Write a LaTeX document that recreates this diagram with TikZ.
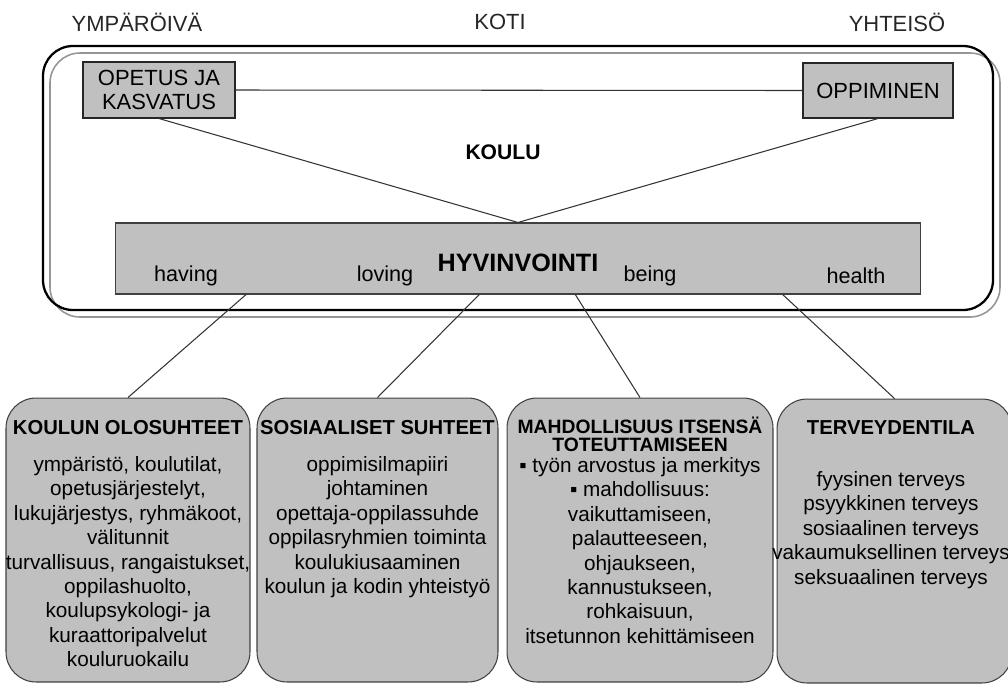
\documentclass[tikz,border=0pt]{standalone}
\usepackage{fontspec}
\setmainfont{Liberation Sans}
\usetikzlibrary{positioning,calc}
\definecolor{boxgray}{RGB}{192,192,192}
\definecolor{linegray}{RGB}{64,64,64}
\definecolor{shadowgray}{RGB}{150,150,150}

\begin{document}
\begin{tikzpicture}[
    x=0.02cm, y=-0.02cm,
    toplabel/.style={font=\fontsize{12.5}{15}\selectfont, text=black!85},
    smallbox/.style={rectangle, draw=black!85, fill=boxgray, line width=0.6pt, align=center, inner sep=0pt, font=\fontsize{12.5}{14}\selectfont},
    bigbox/.style={rectangle, draw=black!75, fill=boxgray, line width=0.6pt, minimum width=16.12cm, minimum height=1.42cm},
    word/.style={font=\fontsize{12.3}{15}\selectfont, inner sep=0pt},
    area/.style={rectangle, rounded corners=0.6cm, draw=linegray, fill=boxgray, line width=0.6pt, minimum height=5.68cm},
    head/.style={font=\bfseries\fontsize{11.5}{10.8}\selectfont, align=center, inner sep=0pt},
    body/.style={font=\fontsize{11.8}{13.9}\selectfont, align=center, inner sep=0pt, anchor=north},
    link/.style={draw=black!80, line width=0.6pt}
]
    \useasboundingbox (0,0) rectangle (1008,684);
    \clip (0,0) rectangle (1008,684);

    % Frame
    \draw[shadowgray, line width=0.9pt, rounded corners=0.6cm] (50,53) rectangle (1000,317);
    \draw[black, line width=1.3pt, rounded corners=0.6cm] (43,46) rectangle (993,310);

    % Top labels
    \node[toplabel] (ymp) at (137,22) {YMPÄRÖIVÄ};
    \node[toplabel] (koti) at (500,22) {KOTI};
    \node[toplabel] (yht) at (897,22) {YHTEISÖ};

    % School
    \node[smallbox, minimum width=3.04cm, minimum height=1.12cm] (opetus) at (159,90) {OPETUS JA\\KASVATUS};
    \node[smallbox, minimum width=3.0cm, minimum height=1.1cm] (oppim) at (878,90.5) {OPPIMINEN};
    \node[font=\bfseries\fontsize{12}{14}\selectfont] (koulu) at (503,152) {KOULU};

    % Well-being
    \node[bigbox] (hyv) at (518,258.5) {};
    \node[font=\bfseries\fontsize{14.3}{16}\selectfont, inner sep=0pt] (hyvtxt) at (518,263) {HYVINVOINTI};
    \node[word] (having) at (186,276) {having};
    \node[word] (loving) at (385,276) {loving};
    \node[word] (being) at (650,276) {being};
    \node[word] (health) at (856,276) {health};

    % Edges
    \draw[link] (opetus.east) -- (oppim.west);
    \draw[link] (opetus.south) -- (hyv.north);
    \draw[link] (oppim.south) -- (hyv.north);

    % Areas
    \node[area, minimum width=4.88cm] (olo) at (128,540) {};
    \node[area, minimum width=4.82cm] (sos) at (377.5,540) {};
    \node[area, minimum width=5.32cm] (mahd) at (640,540) {};
    \node[area, minimum width=4.7cm] (terv) at (894.5,541) {};

    \draw[link] ($(hyv.south west)!.163!(hyv.south east)$) -- (olo.north);
    \draw[link] ($(hyv.south west)!.452!(hyv.south east)$) -- (sos.north);
    \draw[link] ($(hyv.south west)!.571!(hyv.south east)$) -- (mahd.north);
    \draw[link] ($(hyv.south west)!.828!(hyv.south east)$) -- (terv.north);

    % Area texts
    \node[head] (olohead) at (128,428) {KOULUN OLOSUHTEET};
    \node[body] (olotext) at (128,456) {ympäristö, koulutilat,\\opetusjärjestelyt,\\lukujärjestys, ryhmäkoot,\\välitunnit\\turvallisuus, rangaistukset,\\oppilashuolto,\\koulupsykologi- ja\\kuraattoripalvelut\\kouluruokailu};

    \node[head] (soshead) at (377.5,428) {SOSIAALISET SUHTEET};
    \node[body] (sostext) at (377.5,456) {oppimisilmapiiri\\johtaminen\\opettaja-oppilassuhde\\oppilasryhmien toiminta\\koulukiusaaminen\\koulun ja kodin yhteistyö};

    \node[head, font=\bfseries\fontsize{11}{10.5}\selectfont] (mahdhead) at (640,434.5) {MAHDOLLISUUS ITSENSÄ\\TOTEUTTAMISEEN};
    \node[body] (mahdtext) at (640,457) {▪ työn arvostus ja merkitys\\▪ mahdollisuus:\\vaikuttamiseen,\\palautteeseen,\\ohjaukseen,\\kannustukseen,\\rohkaisuun,\\itsetunnon kehittämiseen};

    \node[head] (tervhead) at (891,428) {TERVEYDENTILA};
    \node[body] (tervtext) at (891,471) {fyysinen terveys\\psyykkinen terveys\\sosiaalinen terveys\\vakaumuksellinen terveys\\seksuaalinen terveys};
\end{tikzpicture}
\end{document}
